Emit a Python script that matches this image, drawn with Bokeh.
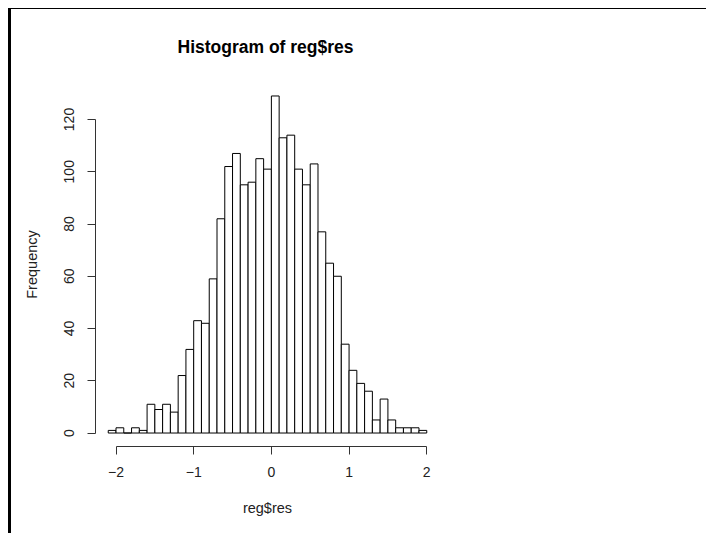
from bokeh.plotting import figure
from bokeh.models import FixedTicker, Range1d
from bokeh.embed import file_html
from bokeh.resources import INLINE

# Histogram bin edges (width 0.1) and counts
breaks = [-2.1, -2.0, -1.9, -1.8, -1.7, -1.6, -1.5, -1.4, -1.3, -1.2, -1.1,
          -1.0, -0.9, -0.8, -0.7, -0.6, -0.5, -0.4, -0.3, -0.2, -0.1, 0.0,
          0.1, 0.2, 0.3, 0.4, 0.5, 0.6, 0.7, 0.8, 0.9, 1.0, 1.1, 1.2, 1.3,
          1.4, 1.5, 1.6, 1.7, 1.8, 1.9, 2.0]
counts = [1, 2, 0, 2, 1, 11, 9, 11, 8, 22, 32, 43, 42, 59, 82, 102, 107, 95,
          96, 105, 101, 129, 113, 114, 101, 95, 103, 77, 65, 60, 34, 24, 19,
          16, 5, 13, 5, 2, 2, 2, 1]
x_ticks = [-2, -1, 0, 1, 2]
y_ticks = [0, 20, 40, 60, 80, 100, 120]

title_text = "Histogram of reg$res"
x_label = "reg$res"
y_label = "Frequency"

FONT = "Liberation Sans"

# R-style 4% range extension
x_lo, x_hi = breaks[0], breaks[-1]
xpad = (x_hi - x_lo) * 0.04
y_hi = max(counts)
ypad = y_hi * 0.04

p = figure(
    output_backend="svg", toolbar_location=None,
    x_range=Range1d(x_lo - xpad, x_hi + xpad),
    y_range=Range1d(-ypad, y_hi + ypad),
    min_border_left=84, min_border_top=73, frame_width=344, frame_height=364,
    min_border_right=267, min_border_bottom=87,
    title=title_text,
)
p.styles = {"border-left": "3px solid black", "border-top": "1px solid black",
            "position": "absolute", "left": "8px", "top": "8px"}

p.quad(left=breaks[:-1], right=breaks[1:], bottom=0, top=counts,
       fill_color="white", line_color="black", line_width=1)

p.xgrid.visible = False
p.ygrid.visible = False
p.outline_line_color = None
p.background_fill_color = "white"
p.border_fill_color = "white"

p.title.align = "left"
p.title.offset = 82
p.title.text_font = FONT
p.title.text_font_style = "bold"
p.title.text_font_size = "17.5px"
p.title.text_color = "black"
p.title.standoff = 51

for ax, ticks, lab in ((p.xaxis[0], x_ticks, x_label), (p.yaxis[0], y_ticks, y_label)):
    ax.ticker = FixedTicker(ticks=ticks)
    ax.bounds = (ticks[0], ticks[-1])
    ax.major_tick_in = 0
    ax.major_tick_out = 8
    ax.minor_tick_in = 0
    ax.minor_tick_out = 0
    ax.axis_line_color = "#333333"
    ax.major_tick_line_color = "#333333"
    ax.major_label_text_font = FONT
    ax.major_label_text_font_size = "14px"
    ax.major_label_text_color = "#222222"
    ax.axis_label = lab
    ax.axis_label_text_font = FONT
    ax.axis_label_text_font_size = "14.5px"
    ax.axis_label_text_font_style = "normal"
    ax.axis_label_text_color = "#222222"

p.xaxis.major_label_standoff = 12
p.xaxis.axis_label_standoff = 20
p.yaxis.major_label_orientation = "vertical"
p.yaxis.major_label_standoff = 13
p.yaxis.axis_label_standoff = 22

open("out.html", "w").write(file_html(p, INLINE))
